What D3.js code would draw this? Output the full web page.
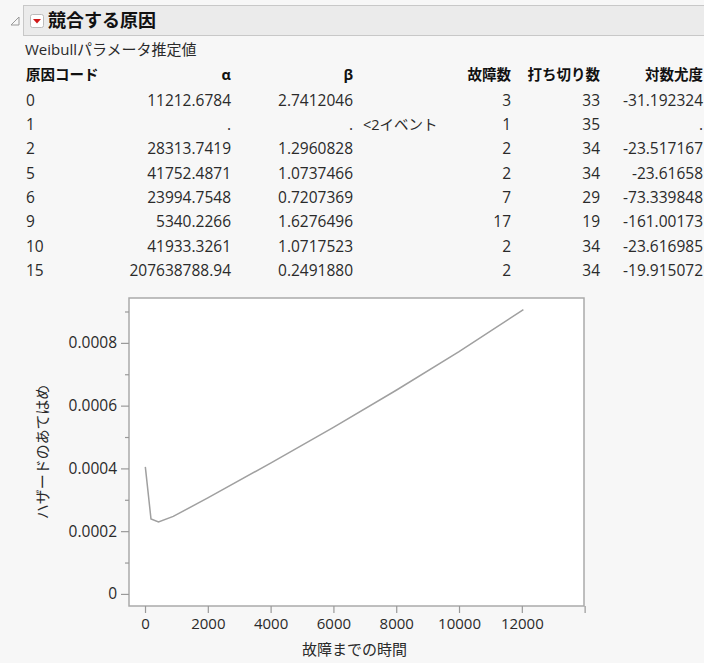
<!DOCTYPE html>
<html><head><meta charset="utf-8">
<script src="https://cdn.jsdelivr.net/npm/d3@7"></script>
<style>
html,body{margin:0;padding:0;background:#f7f7f7;}
svg{display:block;}
</style></head>
<body>
<svg id="c" width="704" height="663"></svg>
<script>
// ---- data ----
const title = "競合する原因";
const subtitle = "Weibullパラメータ推定値";
const columns = ["原因コード", "α", "β", "", "故障数", "打ち切り数", "対数尤度"];
const causeCodes = ["0", "1", "2", "5", "6", "9", "10", "15"];
const alphaVals = ["11212.6784", ".", "28313.7419", "41752.4871", "23994.7548", "5340.2266", "41933.3261", "207638788.94"];
const betaVals = ["2.7412046", ".", "1.2960828", "1.0737466", "0.7207369", "1.6276496", "1.0717523", "0.2491880"];
const notes = ["", "<2イベント", "", "", "", "", "", ""];
const failures = ["3", "1", "2", "2", "7", "17", "2", "2"];
const censored = ["33", "35", "34", "34", "29", "19", "34", "34"];
const logLik = ["-31.192324", ".", "-23.517167", "-23.61658", "-73.339848", "-161.00173", "-23.616985", "-19.915072"];

const hazTime = [10, 190, 430, 900, 2000, 4000, 6000, 8000, 10000, 12050];
const hazValue = [0.000405, 0.000239, 0.000229, 0.000247, 0.000306, 0.000417, 0.000531, 0.000649, 0.000772, 0.000906];
const xTicks = [0, 2000, 4000, 6000, 8000, 10000, 12000, 14000];
const xTickLabels = ["0", "2000", "4000", "6000", "8000", "10000", "12000", ""];
const yTicks = [0, 0.0002, 0.0004, 0.0006, 0.0008];
const yTickLabels = ["0", "0.0002", "0.0004", "0.0006", "0.0008"];
const yMinorTicks = [0.0001, 0.0003, 0.0005, 0.0007, 0.0009];
const xLabel = "故障までの時間";
const yLabel = "ハザードのあてはめ";

// ---- drawing ----
const svg = d3.select("#c");
const CJK = "'Noto Sans CJK JP',sans-serif";
const MIX = "'Open Sans','Noto Sans CJK JP',sans-serif";
const TXT = "#2a2a2a";

// header
svg.append("path").attr("d", "M11,25 L19,17 L19,25 Z").attr("fill", "none").attr("stroke", "#999").attr("stroke-width", 1);
svg.append("rect").attr("x", 23.5).attr("y", 5.5).attr("width", 690).attr("height", 30)
  .attr("fill", "#ebebeb").attr("stroke", "#c8c8c8");
svg.append("rect").attr("x", 30.5).attr("y", 14.5).attr("width", 13).attr("height", 13).attr("rx", 2)
  .attr("fill", "#fff").attr("stroke", "#bbb");
svg.append("path").attr("d", "M33,19 L41,19 L37,23.5 Z").attr("fill", "#d01818");
svg.append("text").attr("x", 48).attr("y", 27).attr("font-family", CJK).attr("font-size", 18)
  .attr("font-weight", "bold").attr("fill", "#111").text(title);

svg.append("text").attr("x", 25).attr("y", 55).attr("font-family", MIX).attr("font-size", 15)
  .attr("fill", TXT).text(subtitle);

// table
const colX = [26, 231, 353, 363, 511, 600, 703];
const colAnchor = ["start", "end", "end", "start", "end", "end", "end"];
const headerY = 80;
const rowY = d3.scaleLinear().domain([0, 7]).range([105.5, 276]);
columns.forEach((c, i) => {
  if (!c) return;
  svg.append("text").attr("x", colX[i]).attr("y", headerY).attr("text-anchor", colAnchor[i])
    .attr("font-family", MIX).attr("font-size", 14.5).attr("font-weight", "bold").attr("fill", "#111").text(c);
});
const cols = [causeCodes, alphaVals, betaVals, notes, failures, censored, logLik];
causeCodes.forEach((_, r) => {
  cols.forEach((arr, i) => {
    svg.append("text").attr("x", colX[i]).attr("y", rowY(r)).attr("text-anchor", colAnchor[i])
      .attr("font-family", MIX).attr("font-size", i === 3 ? 14.5 : 15.5).attr("fill", TXT).text(arr[r]);
  });
});

// plot
const L = 129, R = 584, T = 298, B = 606;
const x = d3.scaleLinear().domain([-510, 13980]).range([L, R]);
const y = d3.scaleLinear().domain([-0.0000385, 0.000943]).range([B, T]);

svg.append("rect").attr("x", L).attr("y", T).attr("width", R - L).attr("height", B - T)
  .attr("fill", "#fff").attr("stroke", "#aaa").attr("stroke-width", 1.5);

const line = d3.line().x((d, i) => x(hazTime[i])).y(d => y(d));
svg.append("path").datum(hazValue).attr("d", line).attr("fill", "none")
  .attr("stroke", "#a0a0a0").attr("stroke-width", 1.5);

// x axis
const xAxis = d3.axisBottom(x).tickValues(xTicks).tickFormat((d, i) => xTickLabels[i]).tickSize(7).tickPadding(5);
const gx = svg.append("g").attr("transform", `translate(0,${B})`).call(xAxis);
gx.select(".domain").remove();
gx.selectAll("line").attr("stroke", "#999").attr("stroke-width", 1.2);
gx.selectAll("text").attr("font-family", MIX).attr("font-size", 15).attr("fill", TXT);

// y axis
const yAxis = d3.axisLeft(y).tickValues(yTicks).tickFormat((d, i) => yTickLabels[i]).tickSize(8).tickPadding(4);
const gy = svg.append("g").attr("transform", `translate(${L},0)`).call(yAxis);
gy.select(".domain").remove();
gy.selectAll("line").attr("stroke", "#999").attr("stroke-width", 1.2);
gy.selectAll("text").attr("font-family", MIX).attr("font-size", 15.5).attr("fill", TXT);
const gym = svg.append("g").attr("transform", `translate(${L},0)`)
  .call(d3.axisLeft(y).tickValues(yMinorTicks).tickFormat("").tickSize(4));
gym.select(".domain").remove();
gym.selectAll("line").attr("stroke", "#999").attr("stroke-width", 1.2);

// axis titles
svg.append("text").attr("x", (L + R) / 2 - 2).attr("y", 655).attr("text-anchor", "middle")
  .attr("font-family", CJK).attr("font-size", 15).attr("fill", TXT).text(xLabel);
svg.append("text").attr("transform", `translate(48,${(T + B) / 2})rotate(-90)`).attr("text-anchor", "middle")
  .attr("font-family", CJK).attr("font-size", 15).attr("fill", TXT).text(yLabel);
</script>
</body></html>
